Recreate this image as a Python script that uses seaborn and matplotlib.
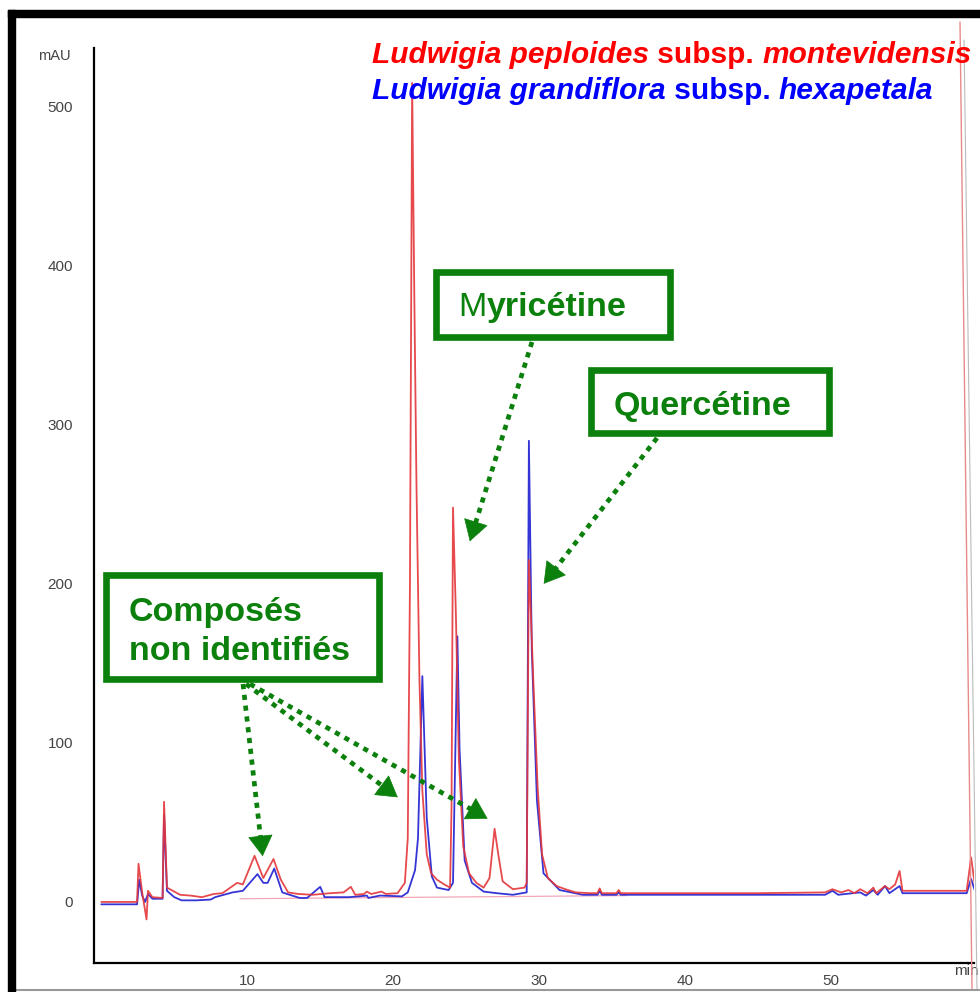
import matplotlib
matplotlib.use("Agg")
import math
import matplotlib.pyplot as plt
import seaborn as sns
import pandas as pd
from matplotlib.patches import Rectangle, FancyArrowPatch
from matplotlib.lines import Line2D

# ------------------------------------------------------------------
# Data (time in min, absorbance in mAU)
# ------------------------------------------------------------------
red_time = [0.0, 2.45, 2.55, 2.8, 3.1, 3.2, 3.5, 4.2, 4.3, 4.5, 5.4, 6.1, 6.9, 7.7,
            8.3, 9.0, 9.3, 9.7, 10.5, 11.1, 11.8, 12.3, 12.8, 13.5, 14.5, 15.7, 16.6,
            17.1, 17.4, 18.0, 18.2, 18.5, 19.2, 19.5, 20.3, 20.8, 21.0, 21.15, 21.3,
            21.45, 21.6, 21.8, 22.0, 22.3, 22.6, 23.0, 23.5, 23.9, 24.0, 24.1, 24.3,
            24.5, 24.8, 25.2, 25.7, 26.2, 26.6, 26.95, 27.2, 27.5, 28.2, 29.0, 29.15,
            29.3, 29.6, 29.9, 30.2, 30.6, 31.2, 31.8, 32.5, 33.5, 34.0, 34.15, 34.3,
            35.3, 35.45, 35.6, 40.0, 45.0, 49.6, 50.1, 50.7, 51.2, 51.6, 52.0, 52.5,
            52.9, 53.1, 53.7, 54.0, 54.4, 54.7, 54.9, 59.3, 59.6, 59.9]
red_mau = [0, 0, 24, 6, -11, 7, 3, 2.5, 63, 9, 4.5, 4, 3, 5,
           5.5, 10, 12, 11, 29, 15, 27, 14, 6, 5, 4.5, 5.5, 6,
           9.5, 4.5, 5, 6.5, 5, 6.5, 5, 5.5, 12, 40, 200, 515,
           380, 260, 140, 70, 30, 18, 14, 11, 9, 60, 248, 180,
           90, 35, 18, 12, 9, 15, 46, 30, 13, 8, 9, 12,
           215, 140, 72, 30, 15, 10, 8, 6, 5.5, 5.5, 8.5, 5.5,
           5.5, 7.5, 5.5, 5.5, 5.5, 6, 8, 6, 7.5, 5.5, 8, 5.5,
           9, 5.5, 10, 8, 11, 19.5, 7, 7, 28, 8]

blue_time = [0.0, 2.45, 2.6, 2.8, 3.0, 3.2, 3.5, 4.2, 4.3, 4.5, 5.0, 5.5, 6.5, 7.5,
             7.8, 9.0, 9.7, 10.7, 11.1, 11.4, 11.85, 12.4, 12.9, 13.6, 14.1, 15.0,
             15.3, 17.0, 18.2, 18.3, 19.1, 20.6, 21.0, 21.5, 21.7, 22.0, 22.3, 22.65,
             23.0, 23.8, 24.1, 24.4, 24.55, 24.9, 25.4, 26.2, 27.1, 28.2, 29.15, 29.3,
             29.5, 29.85, 30.3, 31.4, 33.0, 34.0, 34.15, 34.3, 35.3, 35.45, 35.6, 40.0,
             49.6, 50.1, 50.5, 52.0, 52.4, 52.9, 53.2, 53.7, 54.0, 54.7, 54.9, 59.3,
             59.6, 59.9]
blue_mau = [-1.5, -1.5, 14, 4, 0, 5, 2, 2, 55, 7, 3, 1, 1, 1.5,
            3, 6, 7, 17.5, 12, 12, 21, 6, 4.5, 2.5, 2.5, 9.5,
            3, 3, 4, 2.5, 4, 3.5, 6, 20, 40, 142, 53, 16,
            9, 7.5, 12, 167, 96, 26, 12, 6.5, 5.5, 4.5, 6, 290,
            158, 64, 18, 7.5, 4.5, 4.5, 7, 4.5, 4.5, 6, 4.5, 4.5,
            4.5, 7, 4.5, 6, 4, 7.5, 4.5, 10, 5.5, 10, 5.5, 5.5,
            14.5, 6]

# faint integration baseline drawn by the software
base_time = [9.5, 36.0]
base_mau = [2.0, 4.0]

x_ticks = [10, 20, 30, 40, 50]
y_ticks = [0, 100, 200, 300, 400, 500]

# ------------------------------------------------------------------
sns.set_theme(style="white")
plt.rcParams['font.family'] = ['Liberation Sans', 'DejaVu Sans']

W, H = 980, 992
fig = plt.figure(figsize=(W / 100, H / 100), dpi=100)


def fx(px):
    return px / W


def fy(py):
    return 1 - py / H


ax = fig.add_axes([fx(94), fy(963), fx(974) - fx(94), fy(48) - fy(963)])
ax.set_facecolor('white')

red_c = '#e4363a'
blue_c = '#3535d6'
green = '#0c800c'

df_red = pd.DataFrame({'t': red_time, 'mAU': red_mau})
df_blue = pd.DataFrame({'t': blue_time, 'mAU': blue_mau})

ax.plot(base_time, base_mau, color='#f2a7b8', lw=0.9, zorder=1)
sns.lineplot(data=df_blue, x='t', y='mAU', ax=ax, color=blue_c, lw=1.3,
             estimator=None, sort=False, zorder=2)
sns.lineplot(data=df_red, x='t', y='mAU', ax=ax, color=red_c, lw=1.3, alpha=0.9,
             estimator=None, sort=False, zorder=3)

ax.set_xlim(-0.5, 59.8)
ax.set_ylim(-38.4, 537)
ax.set_xlabel('')
ax.set_ylabel('')
for s in ['top', 'right']:
    ax.spines[s].set_visible(False)
for s in ['left', 'bottom']:
    ax.spines[s].set_color('black')
    ax.spines[s].set_linewidth(1.6)

ax.set_xticks(x_ticks)
ax.set_yticks(y_ticks)
ax.set_xticks(range(2, 60, 2), minor=True)
ax.set_yticks(range(-20, 530, 20), minor=True)
ax.tick_params(axis='both', which='major', direction='out', length=6, width=0.8,
               color='#777777', labelsize=11, labelcolor='#444444', pad=3)
ax.tick_params(axis='both', which='minor', direction='out', length=3, width=0.6,
               color='#999999')
ax.tick_params(axis='y', which='major', pad=9)
ax.tick_params(axis='x', which='major', length=4, pad=4)

ax.text(fx(54), fy(56), 'mAU', transform=fig.transFigure, fontsize=10.5,
        color='#444444', ha='center', va='center')
ax.text(fx(966), fy(971), 'min', transform=fig.transFigure, fontsize=11,
        color='#444444', ha='center', va='center')

# ------------------------------------------------------------------
# rich text helper (runs of different style on one baseline)
fig.canvas.draw()
renderer = fig.canvas.get_renderer()


def runs_line(x0, ybase, runs, size):
    x = x0
    for txt, style, weight, col in runs:
        t = fig.text(fx(x), fy(ybase), txt, fontsize=size, fontstyle=style,
                     fontweight=weight, color=col, ha='left', va='baseline', zorder=6)
        bb = t.get_window_extent(renderer=renderer)
        x += bb.width


leg_size = 21.5
runs_line(372, 63, [('Ludwigia peploides', 'italic', 'bold', '#ff0000'),
                    (' subsp. ', 'normal', 'bold', '#ff0000'),
                    ('montevidensis', 'italic', 'bold', '#ff0000')], leg_size)
runs_line(372, 99, [('Ludwigia grandiflora', 'italic', 'bold', '#0000ff'),
                    (' subsp. ', 'normal', 'bold', '#0000ff'),
                    ('hexapetala', 'italic', 'bold', '#0000ff')], leg_size)

# ------------------------------------------------------------------
# green boxes
box_lw = 4.8


def box(x0, y0, x1, y1):
    fig.patches.append(Rectangle((fx(x0), fy(y1)), fx(x1) - fx(x0), fy(y0) - fy(y1),
                                 transform=fig.transFigure, fill=True, facecolor='white',
                                 edgecolor=green, lw=box_lw, zorder=5))


box(436, 272, 670, 337)
box(591, 370, 829, 433)
box(106, 575, 379, 679)

lab_size = 24.5
runs_line(458, 316, [('M', 'normal', 'normal', green),
                     ('yricétine', 'normal', 'bold', green)], lab_size)
runs_line(614, 415, [('Quercétine', 'normal', 'bold', green)], lab_size)
runs_line(129, 621, [('Composés', 'normal', 'bold', green)], lab_size)
runs_line(129, 660, [('non identifiés', 'normal', 'bold', green)], lab_size)


# dotted arrows
def arrow(x0, y0, x1, y1):
    L = math.hypot(x1 - x0, y1 - y0)
    ux, uy = (x1 - x0) / L, (y1 - y0) / L
    hb = 9
    fig.lines.append(Line2D([fx(x0), fx(x1 - ux * hb)], [fy(y0), fy(y1 - uy * hb)],
                            transform=fig.transFigure, color=green, lw=3.4,
                            dashes=(1.1, 1.2), solid_capstyle='butt',
                            dash_capstyle='butt', zorder=7))
    fig.patches.append(FancyArrowPatch((fx(x1 - ux * 16), fy(y1 - uy * 16)), (fx(x1), fy(y1)),
                                       transform=fig.transFigure,
                                       arrowstyle='-|>,head_length=1.0,head_width=0.6',
                                       mutation_scale=14, color=green, lw=0.5, zorder=7))


arrow(532, 342, 469, 544)
arrow(657, 438, 542, 586)
arrow(243, 684, 263, 859)
arrow(246, 684, 400, 799)
arrow(250, 684, 490, 820)

# ------------------------------------------------------------------
# scan frame
fig.patches.append(Rectangle((fx(8), fy(17)), fx(980) - fx(8), fy(10) - fy(17),
                             transform=fig.transFigure, color='black', zorder=8))
fig.patches.append(Rectangle((fx(8), fy(992)), fx(15) - fx(8), fy(10) - fy(992),
                             transform=fig.transFigure, color='black', zorder=8))
fig.lines.append(Line2D([fx(15), fx(980)], [fy(990), fy(990)], transform=fig.transFigure,
                        color='#999999', lw=1.5, zorder=8))
fig.lines.append(Line2D([fx(960), fx(972)], [fy(22), fy(990)], transform=fig.transFigure,
                        color='#e88a8a', lw=1.0, zorder=4))
fig.lines.append(Line2D([fx(964), fx(977)], [fy(40), fy(990)], transform=fig.transFigure,
                        color='#bbbbbb', lw=0.8, zorder=4))

fig.savefig('out.png', dpi=100, facecolor='white')
